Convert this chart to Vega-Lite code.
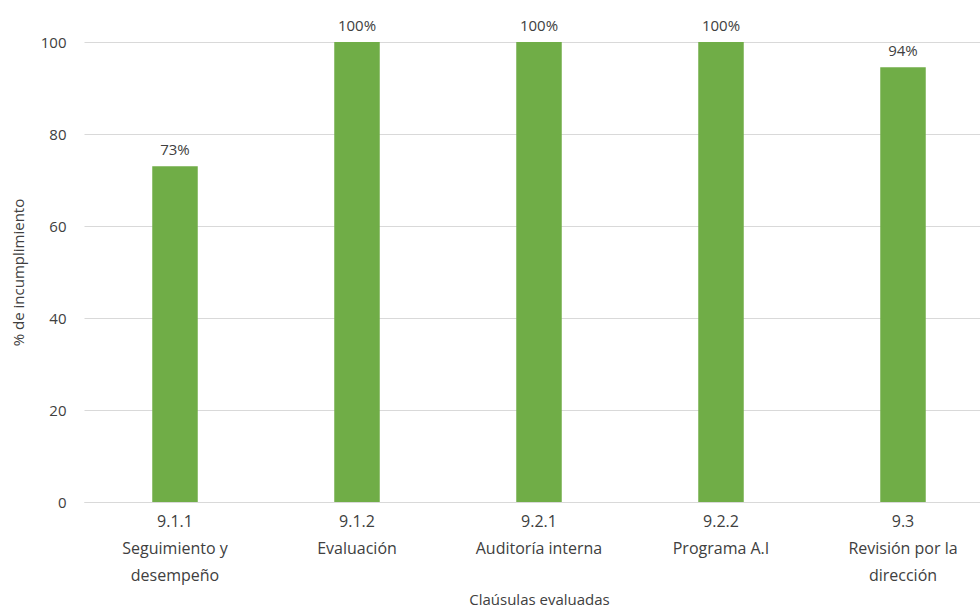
{
  "$schema": "https://vega.github.io/schema/vega-lite/v6.json",
  "width": 910,
  "height": 460,
  "autosize": "none",
  "padding": {"left": 84, "top": 42, "right": 0, "bottom": 110},
  "background": "white",
  "data": {
    "values": [
      {"clausula": "9.1.1|Seguimiento y|desempeño", "pct": 73, "label": "73%"},
      {"clausula": "9.1.2|Evaluación", "pct": 100, "label": "100%"},
      {"clausula": "9.2.1|Auditoría interna", "pct": 100, "label": "100%"},
      {"clausula": "9.2.2|Programa A.I", "pct": 100, "label": "100%"},
      {"clausula": "9.3|Revisión por la|dirección", "pct": 94.5, "label": "94%"}
    ]
  },
  "config": {
    "view": {"stroke": null},
    "font": "Open Sans",
    "axis": {"labelFont": "Open Sans", "titleFont": "Open Sans", "labelColor": "#404040", "titleColor": "#404040", "titleFontWeight": "normal"}
  },
  "encoding": {
    "x": {
      "field": "clausula", "type": "nominal", "sort": null,
      "scale": {"paddingInner": 0.75, "paddingOuter": 0.375},
      "axis": {
        "title": "Claúsulas evaluadas", "titleFontSize": 15, "titlePadding": 9,
        "labelAngle": 0, "labelFontSize": 16, "labelPadding": 11, "labelLineHeight": 27,
        "labelExpr": "split(datum.value, '|')", "ticks": false, "domain": true, "domainColor": "#d9d9d9"
      }
    },
    "y": {
      "field": "pct", "type": "quantitative",
      "scale": {"domain": [0, 100]},
      "axis": {
        "title": "% de incumplimiento", "titleFontSize": 15, "titlePadding": 14,
        "values": [0, 20, 40, 60, 80, 100], "labelFontSize": 15, "labelPadding": 18,
        "ticks": false, "domain": false, "gridColor": "#d9d9d9", "gridWidth": 1
      }
    }
  },
  "layer": [
    {"mark": {"type": "bar", "color": "#70AD47"}},
    {"mark": {"type": "text", "dy": -16, "fontSize": 15, "color": "#404040", "font": "Open Sans"}, "encoding": {"text": {"field": "label"}}}
  ]
}
